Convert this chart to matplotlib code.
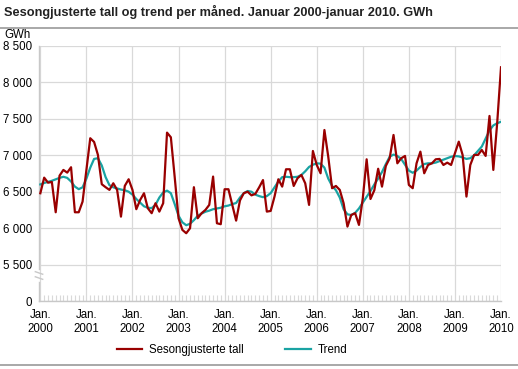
import matplotlib
matplotlib.use("Agg")
import matplotlib.pyplot as plt
from matplotlib.lines import Line2D

plt.rcParams['font.family'] = ['Liberation Sans', 'DejaVu Sans']

# Sesongjusterte tall, monthly Jan 2000 - Jan 2010 (GWh)
sa_2000 = [6479, 6693, 6624, 6634, 6218, 6720, 6799, 6762, 6836, 6218, 6218, 6364]
sa_2001 = [6799, 7234, 7183, 7005, 6603, 6562, 6525, 6616, 6525, 6158, 6580, 6671]
sa_2002 = [6525, 6260, 6387, 6479, 6273, 6205, 6342, 6227, 6342, 7311, 7247, 6700]
sa_2003 = [6136, 5976, 5930, 5999, 6562, 6136, 6205, 6250, 6319, 6708, 6067, 6054]
sa_2004 = [6534, 6534, 6319, 6103, 6380, 6480, 6500, 6450, 6470, 6560, 6660, 6227]
sa_2005 = [6236, 6433, 6671, 6570, 6808, 6808, 6579, 6685, 6730, 6616, 6319, 7059]
sa_2006 = [6867, 6753, 7347, 6980, 6548, 6579, 6525, 6342, 6021, 6181, 6205, 6044]
sa_2007 = [6410, 6945, 6400, 6520, 6815, 6570, 6854, 6959, 7279, 6890, 6959, 6991]
sa_2008 = [6593, 6548, 6890, 7050, 6753, 6867, 6890, 6945, 6950, 6867, 6899, 6867]
sa_2009 = [7028, 7187, 7005, 6433, 6867, 7005, 7005, 7073, 6991, 7540, 6799, 7439]
sa_2010 = [8208]

# Trend
tr_2000 = [6600, 6620, 6635, 6650, 6670, 6690, 6705, 6690, 6640, 6570, 6535, 6560]
tr_2001 = [6680, 6830, 6950, 6960, 6860, 6700, 6590, 6560, 6545, 6530, 6520, 6500]
tr_2002 = [6460, 6400, 6350, 6300, 6280, 6275, 6320, 6420, 6490, 6515, 6480, 6330]
tr_2003 = [6170, 6080, 6040, 6060, 6110, 6170, 6200, 6225, 6240, 6260, 6270, 6280]
tr_2004 = [6300, 6310, 6330, 6345, 6420, 6480, 6510, 6500, 6460, 6440, 6425, 6440]
tr_2005 = [6480, 6560, 6640, 6700, 6705, 6700, 6700, 6705, 6730, 6780, 6840, 6870]
tr_2006 = [6890, 6885, 6830, 6680, 6580, 6520, 6420, 6260, 6190, 6180, 6210, 6270]
tr_2007 = [6350, 6430, 6510, 6600, 6680, 6770, 6880, 6980, 7010, 6990, 6950, 6870]
tr_2008 = [6790, 6760, 6790, 6840, 6880, 6890, 6890, 6900, 6920, 6940, 6960, 6980]
tr_2009 = [6990, 6985, 6970, 6950, 6960, 7000, 7060, 7120, 7230, 7340, 7410, 7440]
tr_2010 = [7460]

years = list(range(2000, 2011))
y_ticks = [5000, 5500, 6000, 6500, 7000, 7500, 8000, 8500]
y_labels = ["0", "5 500", "6 000", "6 500", "7 000", "7 500", "8 000", "8 500"]

sesong = (sa_2000 + sa_2001 + sa_2002 + sa_2003 + sa_2004 + sa_2005
          + sa_2006 + sa_2007 + sa_2008 + sa_2009 + sa_2010)
trend = (tr_2000 + tr_2001 + tr_2002 + tr_2003 + tr_2004 + tr_2005
         + tr_2006 + tr_2007 + tr_2008 + tr_2009 + tr_2010)
months = list(range(len(sesong)))

red = "#990000"
teal = "#1aa3a3"
grid = "#d9d9d9"
fs = 8.3

fig = plt.figure(figsize=(5.18, 3.69), dpi=100)
ax = fig.add_axes([39 / 518, 68 / 369, 462 / 518, 255 / 369])

ax.plot(months, trend, color=teal, lw=1.6, zorder=3)
ax.plot(months, sesong, color=red, lw=1.6, zorder=4)

ax.set_xlim(-0.35, 120)
ax.set_ylim(5000, 8500)
ax.set_xticks([12 * i for i in range(len(years))])
ax.set_xticklabels(["Jan.\n" + str(y) for y in years], fontsize=fs, linespacing=1.2)
ax.set_xticks(months, minor=True)
ax.set_yticks(y_ticks)
ax.set_yticklabels(y_labels, fontsize=fs)
ax.tick_params(axis="x", which="major", length=0, pad=6)
ax.tick_params(axis="x", which="minor", direction="in", length=4, color=grid, width=0.8)
ax.tick_params(axis="y", length=0, pad=5)
ax.grid(True, which="major", color=grid, lw=0.9)
ax.set_axisbelow(True)
for s in ax.spines.values():
    s.set_visible(False)

# left axis with a break between 0 and 5 500
tr = ax.transAxes
ax.add_line(Line2D([0, 0], [0, 0.075], transform=tr, color="#c8c8c8", lw=1, clip_on=False))
ax.add_line(Line2D([0, 0], [0.125, 1], transform=tr, color="#c8c8c8", lw=1, clip_on=False))
for dy in (0.0, 0.02):
    ax.add_line(Line2D([-0.008, 0.008], [0.115 - dy, 0.085 - dy + 0.02], transform=tr,
                       color="#c8c8c8", lw=1, clip_on=False))
ax.add_line(Line2D([0, 1], [0, 0], transform=tr, color="#c8c8c8", lw=1, clip_on=False))

fig.text(4 / 518, 1 - 12 / 369, "Sesongjusterte tall og trend per måned. Januar 2000-januar 2010. GWh",
         fontsize=9.2, fontweight="bold", color="#222222", va="center", ha="left")
fig.add_artist(Line2D([0, 1], [1 - 28 / 369, 1 - 28 / 369], color="#999999", lw=1.2))
fig.add_artist(Line2D([0, 1], [1 - 365 / 369, 1 - 365 / 369], color="#999999", lw=1.2))
fig.text(4 / 518, 1 - 35 / 369, "GWh", fontsize=fs, va="center", ha="left")

handles = [Line2D([], [], color=red, lw=1.6), Line2D([], [], color=teal, lw=1.6)]
fig.legend(handles, ["Sesongjusterte tall", "Trend"], loc="center", ncol=2,
           bbox_to_anchor=(0.448, 1 - 350 / 369), frameon=False, fontsize=fs,
           handlelength=2.2, columnspacing=3.6, handletextpad=0.6)

fig.savefig("out.png", dpi=100)
